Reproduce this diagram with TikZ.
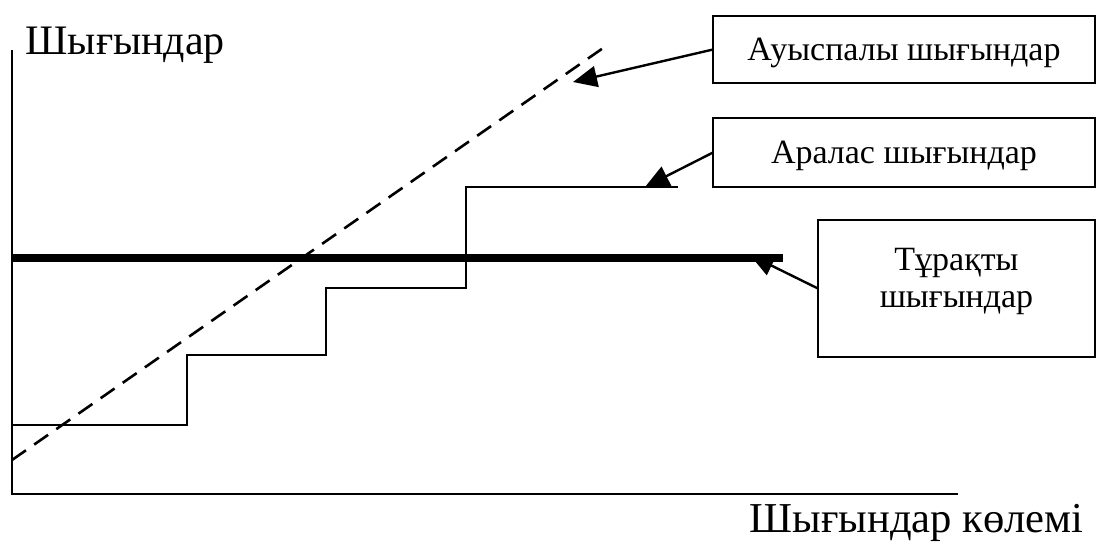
\documentclass[tikz,border=0pt]{standalone}
\usepackage{fontspec}
\setmainfont{Liberation Serif}
\usetikzlibrary{arrows.meta}
\begin{document}
\begin{tikzpicture}[x=0.5pt,y=-0.5pt,
  axis/.style={line width=1.3pt},
  boxnode/.style={draw,line width=1.2pt,outer sep=0pt,font=\fontsize{17}{18}\selectfont},
  pointer/.style={line width=1.2pt,-{Triangle[length=12pt,width=10.5pt]}},
  stepline/.style={line width=1.2pt},
  fixedline/.style={line width=4pt},
  varline/.style={line width=1.3pt,dash pattern=on 8.5pt off 5pt}]
\useasboundingbox (0,0) rectangle (1097,541);
% axes
\coordinate (O) at (12,494);
\coordinate (ytop) at (12,50);
\coordinate (xend) at (958,494);
\draw[axis] (ytop) -- (O) -- (xend);
\node[anchor=base west,font=\fontsize{21}{24}\selectfont,inner sep=0pt] (ylab) at (25,54) {Шығындар};
\node[anchor=base east,font=\fontsize{21.3}{24}\selectfont,inner sep=0pt] (xlab) at (1084,532) {Шығындар көлемі};
% variable costs
\coordinate (v0) at (12,460);
\coordinate (v1) at (606,46);
\draw[varline] (v0) -- (v1);
% fixed costs
\coordinate (f0) at (12,258);
\coordinate (f1) at (783,258);
\draw[fixedline] (f0) -- (f1);
% mixed costs (steps)
\coordinate (s0) at (12,425);
\coordinate (s1) at (678,187);
\draw[stepline] (s0) -- (187,425) -- (187,355) -- (326,355) -- (326,288) -- (466,288) -- (466,187) -- (s1);
% boxes
\node[boxnode,minimum width=191pt,minimum height=33.5pt,text depth=0pt] (b1) at (904,49.5) {Ауыспалы шығындар};
\node[boxnode,minimum width=191pt,minimum height=34.5pt,text depth=0pt] (b2) at (904,152.5) {Аралас шығындар};
\node[boxnode,minimum width=138.5pt,minimum height=68.5pt,align=center,font=\fontsize{17}{18.5}\selectfont] (b3) at (956.5,288.5) {Тұрақты\\шығындар\rule[-10.5pt]{0pt}{0pt}};
% pointers
\coordinate (t1) at (573,82);
\coordinate (t2) at (645,187);
\coordinate (t3) at (750,255);
\draw[pointer] (b1.west) -- (t1);
\draw[pointer] (b2.west) -- (t2);
\draw[pointer] (b3.west) -- (t3);
\end{tikzpicture}
\end{document}
